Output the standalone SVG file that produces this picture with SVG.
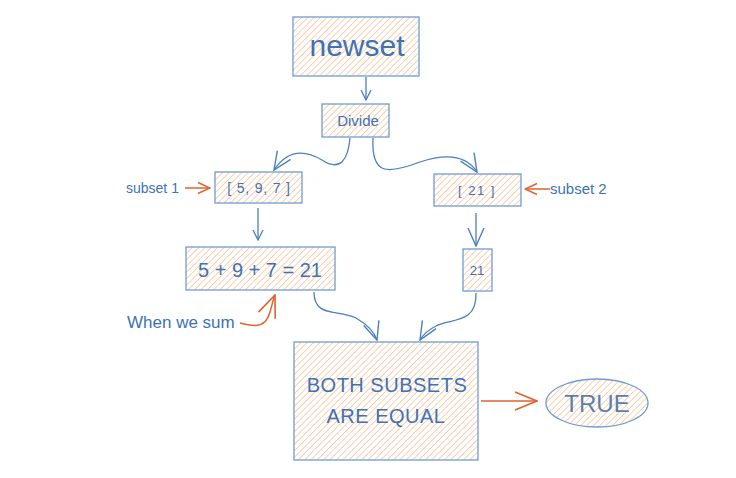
<svg xmlns="http://www.w3.org/2000/svg" width="736" height="478" viewBox="0 0 736 478">
<defs>
<pattern id="hatch" patternUnits="userSpaceOnUse" width="4.5" height="4.5" patternTransform="rotate(45)">
<rect width="4.5" height="4.5" fill="#ffffff"/>
<line x1="0" y1="0" x2="0" y2="4.5" stroke="#fbbf94" stroke-width="1.5"/>
</pattern>
<marker id="ab" viewBox="0 0 12 12" refX="11" refY="6" markerWidth="12" markerHeight="12" markerUnits="userSpaceOnUse" orient="auto">
<path d="M1,1 L11,6 L1,11" fill="none" stroke="#4a7fc0" stroke-width="1.3"/>
</marker>
<marker id="abL" viewBox="0 0 20 20" refX="19" refY="10" markerWidth="20" markerHeight="20" markerUnits="userSpaceOnUse" orient="auto">
<path d="M1,2 L19,10 L1,18" fill="none" stroke="#4a7fc0" stroke-width="1.4"/>
</marker>
<marker id="ao" viewBox="0 0 14 14" refX="13" refY="7" markerWidth="14" markerHeight="14" markerUnits="userSpaceOnUse" orient="auto">
<path d="M1,1.5 L13,7 L1,12.5" fill="none" stroke="#e0622f" stroke-width="1.5"/>
</marker>
<marker id="aoL" viewBox="0 0 24 24" refX="23" refY="12" markerWidth="24" markerHeight="24" markerUnits="userSpaceOnUse" orient="auto">
<path d="M1,3 L23,12 L1,21" fill="none" stroke="#e0622f" stroke-width="1.6"/>
</marker>
</defs>
<style>
.box{fill:url(#hatch);stroke:#6f9dd0;stroke-width:1.3}
.t{font-family:"Liberation Sans",Arial,sans-serif;fill:#3e72b3;text-anchor:middle}
.l{font-family:"Liberation Sans",Arial,sans-serif;fill:#3e72b3}
.c{fill:none;stroke:#4a7fc0;stroke-width:1.3}
.o{fill:none;stroke:#e0622f;stroke-width:1.5}
</style>
<rect width="736" height="478" fill="#ffffff"/>

<g id="connectors">
<path class="c" d="M366,77 L366,100" marker-end="url(#ab)"/>
<path class="c" d="M350,138 C348,160 340,172 322,160 C302,148 286,152 274,170" marker-end="url(#abL)"/>
<path class="c" d="M373,138 C371,176 388,174 420,162 C450,152 468,158 477,172" marker-end="url(#abL)"/>
<path class="c" d="M258,208 L258,240" marker-end="url(#ab)"/>
<path class="c" d="M476,213 L476,246" marker-end="url(#abL)"/>
<path class="c" d="M314,292 C314,318 338,309 356,318 C368,325 374,331 377,340" marker-end="url(#abL)"/>
<path class="c" d="M476,293 C477,325 450,318 436,326 C428,330 423,335 420,340" marker-end="url(#abL)"/>
<path class="o" d="M185,188 L210,188" marker-end="url(#ao)"/>
<path class="o" d="M550,189 L525,189" marker-end="url(#ao)"/>
<path class="o" d="M240,323 C258,328 266,326 270,312 C272,305 273,300 275,295" marker-end="url(#aoL)"/>
<path class="o" d="M481,401 L537,401" marker-end="url(#aoL)"/>
</g>

<g id="newset">
<rect class="box" x="293" y="17" width="126" height="59"/>
<text class="t" x="357" y="56" font-size="30">newset</text>
</g>
<g id="divide">
<rect class="box" x="322" y="104" width="67" height="33"/>
<text class="t" x="358" y="126" font-size="15">Divide</text>
</g>
<g id="subset1">
<rect class="box" x="215" y="172" width="87" height="31"/>
<text class="t" x="259" y="193" font-size="14" letter-spacing="0.8">[ 5, 9, 7 ]</text>
</g>
<g id="subset2">
<rect class="box" x="434" y="174" width="87" height="32"/>
<text class="t" x="477" y="195" font-size="13" letter-spacing="1.5">[ 21 ]</text>
</g>
<g id="sum1">
<rect class="box" x="186" y="247" width="149" height="43"/>
<text class="t" x="260" y="277" font-size="20">5 + 9 + 7 = 21</text>
</g>
<g id="sum2">
<rect class="box" x="463" y="249" width="29" height="42"/>
<text class="t" x="477" y="275" font-size="13">21</text>
</g>
<g id="equal">
<rect class="box" x="294" y="342" width="184" height="118"/>
<text class="t" x="387" y="392" font-size="20" letter-spacing="0.5">BOTH SUBSETS</text>
<text class="t" x="386" y="423" font-size="20" letter-spacing="0.5">ARE EQUAL</text>
</g>
<g id="true">
<ellipse cx="597" cy="403" rx="51" ry="24" fill="url(#hatch)" stroke="#6f9dd0" stroke-width="1.3"/>
<text class="t" x="597" y="412" font-size="24" style="fill:#5a7fad">TRUE</text>
</g>
<g id="labels">
<text class="l" x="126" y="193" font-size="14">subset 1</text>
<text class="l" x="550" y="194" font-size="15">subset 2</text>
<text class="l" x="127" y="328" font-size="17">When we sum</text>
</g>
</svg>
